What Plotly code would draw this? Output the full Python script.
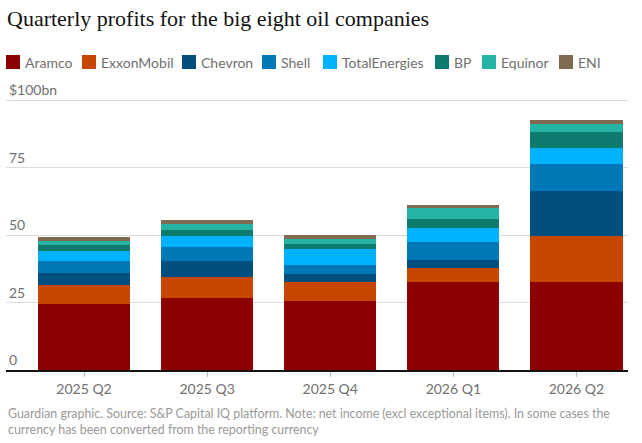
import plotly.graph_objects as go

quarters = ["2025 Q2", "2025 Q3", "2025 Q4", "2026 Q1", "2026 Q2"]

# quarterly net income, $bn
aramco = [24.4, 26.7, 25.7, 32.6, 32.6]
exxonmobil = [7.1, 7.7, 6.9, 5.3, 17.1]
chevron = [4.5, 6.1, 3.0, 2.7, 16.7]
shell = [4.5, 5.2, 3.3, 7.0, 10.0]
totalenergies = [3.7, 4.0, 5.9, 5.1, 5.9]
bp = [2.1, 2.2, 1.9, 3.3, 5.8]
equinor = [1.7, 2.2, 1.8, 3.9, 3.1]
eni = [1.4, 1.5, 1.5, 1.4, 1.4]

y_ticks = [0, 25, 50, 75, 100]
y_tick_labels = ["0", "25", "50", "75", "$100bn"]

companies = [
    ("Aramco", aramco, "#8c0000"),
    ("ExxonMobil", exxonmobil, "#c74600"),
    ("Chevron", chevron, "#004f7e"),
    ("Shell", shell, "#0077b6"),
    ("TotalEnergies", totalenergies, "#00b2ff"),
    ("BP", bp, "#0f7b6e"),
    ("Equinor", equinor, "#25b3a4"),
    ("ENI", eni, "#7e6b52"),
]

# legend swatch left edges in pixels (plotly's own legend wraps at this width)
legend_px = [6, 82, 182, 262, 323, 435, 482, 559]

W, H = 642, 443
L, R, T, B = 6, 14, 80, 73
pw, ph = W - L - R, H - T - B


def px_x(px):
    return (px - L) / pw


def px_y(py):
    return (H - B - py) / ph


sans = "Lato, Roboto, sans-serif"

fig = go.Figure()
for name, vals, col in companies:
    fig.add_trace(go.Bar(name=name, x=quarters, y=vals, marker_color=col,
                         marker_line_width=0, showlegend=False))

# hand-built single-row legend
for (name, vals, col), lx in zip(companies, legend_px):
    fig.add_shape(type="rect", xref="paper", yref="paper",
                  x0=px_x(lx), x1=px_x(lx + 14), y0=px_y(69), y1=px_y(55),
                  fillcolor=col, line_width=0)
    fig.add_annotation(text=name, xref="paper", yref="paper",
                       x=px_x(lx + 17), y=px_y(62), xanchor="left", yanchor="middle",
                       showarrow=False, font=dict(size=14, color="#707070"))

fig.update_layout(
    barmode="stack",
    bargap=0.25,
    width=W, height=H,
    margin=dict(l=L, r=R, t=T, b=B, autoexpand=False),
    paper_bgcolor="white", plot_bgcolor="white",
    font=dict(family=sans, color="#707070", size=14),
    title=dict(text="Quarterly profits for the big eight oil companies",
               font=dict(family="Liberation Serif, DejaVu Serif, serif", size=22, color="#121212"),
               xref="container", x=7 / W, xanchor="left",
               yref="container", y=1 - 18 / H, yanchor="middle"),
    showlegend=False,
)

fig.update_xaxes(range=[-0.634, 4.419], showgrid=False, showline=True,
                 linecolor="#121212", linewidth=1.5, ticks="outside", ticklen=5,
                 tickcolor="#bbbbbb", tickfont=dict(size=14, color="#707070"))
fig.update_yaxes(range=[0, 107.5], tickvals=y_ticks, ticktext=y_tick_labels,
                 ticklabelposition="inside top", showgrid=True, gridcolor="#dcdcdc",
                 gridwidth=1, zeroline=False, showline=False,
                 tickfont=dict(size=14, color="#707070"))

fig.add_annotation(
    text="Guardian graphic. Source: S&P Capital IQ platform. Note: net income (excl exceptional items). In some cases the<br>currency has been converted from the reporting currency",
    xref="paper", yref="paper", x=px_x(6), y=px_y(421), xanchor="left", yanchor="middle",
    align="left", showarrow=False, font=dict(size=12.4, color="#999999"))

fig.write_html("out.html", config={"displayModeBar": False},
               post_script="document.body.style.margin='0';")
